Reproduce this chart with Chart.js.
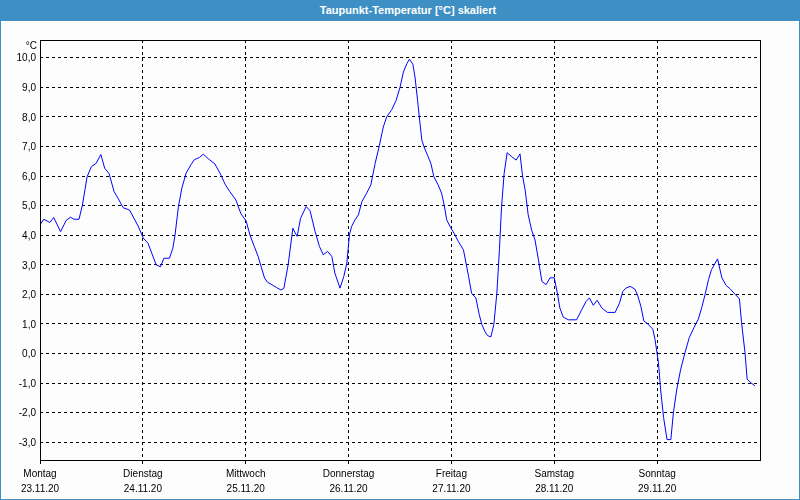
<!DOCTYPE html>
<html>
<head>
<meta charset="utf-8">
<script src="https://cdn.jsdelivr.net/npm/chart.js@4.4.0/dist/chart.umd.min.js"></script>
<style>
    body { margin: 0; background: #fcfdfc; }
    #wrap { position: relative; width: 800px; height: 500px; }
    #title {
        position: absolute; left: 0; top: 0; width: 784px; height: 21px; padding-left: 16px;
        background: #3e90c4; color: #fff; font: bold 11px "Liberation Sans", sans-serif;
        line-height: 20px; text-align: center;
    }
    #frame {
        position: absolute; left: 0; top: 0; width: 798px; height: 498px;
        border: 1px solid #3e90c4; pointer-events: none;
    }
    canvas { position: absolute; left: 0; top: 0; }
</style>
</head>
<body>
<div id="wrap">
    <canvas id="chart" width="800" height="500"></canvas>
    <div id="title">Taupunkt-Temperatur [°C] skaliert</div>
    <div id="frame"></div>
</div>
<script>
// days shown on the x axis
const dayNames = ["Montag", "Dienstag", "Mittwoch", "Donnerstag", "Freitag", "Samstag", "Sonntag"];
const dayDates = ["23.11.20", "24.11.20", "25.11.20", "26.11.20", "27.11.20", "28.11.20", "29.11.20"];

// y axis tick values (°C)
const yTicks = [-3, -2, -1, 0, 1, 2, 3, 4, 5, 6, 7, 8, 9, 10];

// hours since Monday 00:00
const hours = [
    0, 0.9, 2.3, 3.2, 4.8, 6.1, 7.1, 7.9, 9.1, 9.9, 11.0, 12.0, 13.1, 14.2, 15.1, 16.1, 17.3, 18.2, 19.4, 20.9,
    22.9, 24.1, 25.2, 27.1, 28.1, 28.9, 30.2, 31.0, 31.5, 32.3, 33.1, 34.1, 35.2, 36.0, 37.2, 38.1, 39.3, 40.8,
    42.0, 43.2, 44.3, 45.7, 46.9, 48.1, 49.0, 50.0, 50.9, 51.7, 52.4, 53.1, 54.4, 55.2, 56.2, 56.9, 57.9,
    59.0, 59.5, 60.0, 60.8, 62.1, 63.0, 64.2, 65.2, 66.1, 67.1, 68.1, 68.8, 70.0, 70.9, 71.6, 72.2, 72.7,
    73.5, 74.3, 75.1, 76.2, 77.2, 78.2, 79.2, 80.1, 80.9, 82.1, 83.1, 84.0, 84.8, 85.6, 86.2, 87.0, 87.5,
    88.1, 88.5, 89.1, 89.6, 90.4, 91.2, 91.9, 92.9, 93.7, 94.3, 94.9, 95.7, 96.6, 97.6, 98.8, 99.4, 100.0,
    100.7, 101.7, 102.5, 103.1, 103.8, 104.4, 105.2, 105.9, 106.6, 107.2, 107.7, 108.3, 109.0, 110.1, 111.1,
    112.0, 112.6, 113.2, 113.9, 114.7, 115.5, 116.3, 117.1, 118.1, 119.0, 120.0, 120.7, 121.3, 122.1, 123.3,
    125.2, 126.4, 127.4, 128.2, 129.1, 130.0, 131.1, 132.4, 134.2, 135.2, 136.0, 136.7, 137.7, 138.8, 139.4,
    140.2, 140.9, 141.9, 143.0, 143.5, 144.3, 144.8, 145.5, 146.3, 147.2, 147.8, 148.6, 149.5, 150.5, 151.5,
    152.6, 153.6, 154.4, 155.2, 156.0, 156.7, 158.1, 159.1, 160.1, 161.0, 162.2, 163.2, 163.7, 164.5, 165.0,
    165.8, 166.8
];

// dew point in °C
const taupunkt = [
    4.35, 4.54, 4.43, 4.6, 4.12, 4.5, 4.61, 4.54, 4.54, 5.02, 5.98, 6.32, 6.43, 6.73, 6.26, 6.09, 5.47, 5.25, 4.93, 4.85,
    4.31, 3.9, 3.73, 3.0, 2.93, 3.22, 3.22, 3.56, 4.0, 4.97, 5.59, 6.1, 6.38, 6.55, 6.63, 6.74, 6.58, 6.41,
    6.1, 5.72, 5.47, 5.19, 4.72, 4.48, 4.0, 3.62, 3.28, 2.89, 2.55, 2.41, 2.3, 2.23, 2.15, 2.2, 3.0,
    4.24, 4.09, 3.96, 4.57, 4.97, 4.83, 4.12, 3.62, 3.34, 3.45, 3.28, 2.72, 2.21, 2.61, 3.06, 4.01, 4.29,
    4.52, 4.69, 5.13, 5.42, 5.7, 6.43, 7.04, 7.66, 8.0, 8.25, 8.56, 9.0, 9.52, 9.8, 9.95, 9.78, 9.35,
    8.56, 8.0, 7.21, 6.99, 6.71, 6.43, 5.98, 5.7, 5.42, 5.03, 4.52, 4.29, 4.07, 3.79, 3.51, 3.06, 2.61,
    2.04, 1.88, 1.31, 0.98, 0.75, 0.61, 0.56, 0.98, 2.04, 3.51, 4.97, 6.09, 6.79, 6.65, 6.54,
    6.75, 6.0, 5.53, 4.7, 4.18, 3.84, 3.17, 2.44, 2.33, 2.56, 2.56, 2.05, 1.54, 1.23, 1.14,
    1.14, 1.48, 1.76, 1.88, 1.63, 1.8, 1.54, 1.39, 1.39, 1.7, 2.1, 2.21, 2.27, 2.18, 1.99,
    1.6, 1.1, 0.99, 0.82, 0.48, -0.3, -1.2, -2.16, -2.91, -2.91, -1.99, -1.2, -0.53, 0.03, 0.54,
    0.88, 1.16, 1.55, 2.0, 2.51, 2.84, 3.2, 2.56, 2.3, 2.19, 2.0, 1.85, 1.04, 0.03, -0.87,
    -0.98, -1.09
];

const tickFont = { family: "Liberation Sans", size: 10, lineHeight: 1.5 };

// frame round the plot area + unit label
const extras = {
    id: "extras",
    afterDraw(chart) {
        const { ctx, chartArea: a } = chart;
        ctx.save();
        ctx.strokeStyle = "#000";
        ctx.lineWidth = 1;
        ctx.setLineDash([]);
        ctx.strokeRect(a.left + 0.5, a.top + 0.5, a.right - a.left, a.bottom - a.top);
        ctx.fillStyle = "#000";
        ctx.font = "10px 'Liberation Sans'";
        ctx.textAlign = "right";
        ctx.textBaseline = "middle";
        ctx.fillText("°C", a.left - 3, a.top + 6);
        ctx.restore();
    }
};

new Chart(document.getElementById("chart"), {
    type: "line",
    data: {
        datasets: [{
            data: hours.map((h, i) => ({ x: h, y: taupunkt[i] })),
            borderColor: "#0000ff",
            borderWidth: 1,
            pointRadius: 0,
            tension: 0,
            fill: false
        }]
    },
    options: {
        responsive: false,
        animation: false,
        devicePixelRatio: 1,
        layout: { padding: { top: 40, right: 40, left: 0, bottom: 0 } },
        plugins: { legend: { display: false }, tooltip: { enabled: false } },
        scales: {
            x: {
                type: "linear",
                min: 0,
                max: 168,
                afterBuildTicks: s => { s.ticks = dayNames.map((d, i) => ({ value: i * 24 })); },
                afterFit: s => { s.height = 40; },
                grid: { color: "#000", tickLength: 4 },
                border: { display: false, dash: [3, 3] },
                ticks: {
                    color: "#000",
                    font: tickFont,
                    padding: 3,
                    maxRotation: 0,
                    autoSkip: false,
                    callback: v => [dayNames[v / 24], dayDates[v / 24]]
                }
            },
            y: {
                min: -3.6,
                max: 10.6,
                afterBuildTicks: s => { s.ticks = yTicks.map(v => ({ value: v })); },
                afterFit: s => { s.width = 40; },
                grid: { color: "#000", drawTicks: false },
                border: { display: false, dash: [3, 3] },
                ticks: {
                    color: "#000",
                    font: { family: "Liberation Sans", size: 10 },
                    padding: 4,
                    labelOffset: 1,
                    callback: v => v.toFixed(1).replace(".", ",")
                }
            }
        }
    },
    plugins: [extras]
});
</script>
</body>
</html>
